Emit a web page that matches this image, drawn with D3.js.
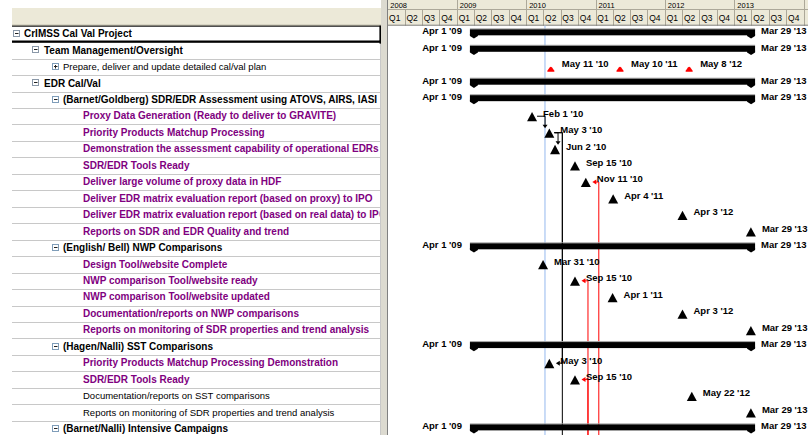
<!DOCTYPE html>
<html><head><meta charset="utf-8">
<script src="https://cdn.jsdelivr.net/npm/d3@7"></script>
<style>
html,body{margin:0;padding:0;background:#fff;overflow:hidden}
svg{display:block}
text{font-family:"Liberation Sans",Arial,sans-serif}
</style></head><body>
<svg id="c" width="808" height="435"></svg>
<script>
// ---------------- DATA ----------------
const taskNames = [
 "CrIMSS Cal Val Project",
 "Team Management/Oversight",
 "Prepare, deliver and update detailed cal/val plan",
 "EDR Cal/Val",
 "(Barnet/Goldberg) SDR/EDR Assessment using ATOVS, AIRS, IASI",
 "Proxy Data Generation (Ready to deliver to GRAVITE)",
 "Priority Products Matchup Processing",
 "Demonstration the assessment capability of operational EDRs",
 "SDR/EDR Tools Ready",
 "Deliver large volume of proxy data in HDF",
 "Deliver EDR matrix evaluation report (based on proxy) to IPO",
 "Deliver EDR matrix evaluation report (based on real data) to IPO",
 "Reports on SDR and EDR Quality and trend",
 "(English/ Bell) NWP Comparisons",
 "Design Tool/website Complete",
 "NWP comparison Tool/website ready",
 "NWP comparison Tool/website updated",
 "Documentation/reports on NWP comparisons",
 "Reports on monitoring of SDR properties and trend analysis",
 "(Hagen/Nalli) SST Comparisons",
 "Priority Products Matchup Processing Demonstration",
 "SDR/EDR Tools Ready",
 "Documentation/reports on SST comparisons",
 "Reports on monitoring of SDR properties and trend analysis",
 "(Barnet/Nalli) Intensive Campaigns"
];
const taskLevels = [0,1,2,1,2,3,3,3,3,3,3,3,3,2,3,3,3,3,3,2,3,3,3,3,2];
const taskTypes = ["summary","summary","rollup","summary","summary",
 "milestone","milestone","milestone","milestone","milestone","milestone","milestone","milestone",
 "summary","milestone","milestone","milestone","milestone","milestone",
 "summary","milestone","milestone","milestone","milestone","summary"];
const taskHighlighted = [0,0,0,0,0,1,1,1,1,1,1,1,1,0,1,1,1,1,1,0,1,1,0,0,0];
const taskExpanded = [1,1,0,1,1,null,null,null,null,null,null,null,null,1,null,null,null,null,null,1,null,null,null,null,1];
const taskStart = ["2009-04-01","2009-04-01",null,"2009-04-01","2009-04-01",
 "2010-02-01","2010-05-03","2010-06-02","2010-09-15","2010-11-11","2011-04-04","2012-04-03","2013-03-29",
 "2009-04-01","2010-03-31","2010-09-15","2011-04-01","2012-04-03","2013-03-29",
 "2009-04-01","2010-05-03","2010-09-15","2012-05-22","2013-03-29","2009-04-01"];
const taskFinish = ["2013-03-29","2013-03-29",null,"2013-03-29","2013-03-29",
 null,null,null,null,null,null,null,null,
 "2013-03-29",null,null,null,null,null,
 "2013-03-29",null,null,null,null,"2013-03-29"];
const rollupDates = ["2010-05-11","2011-05-10","2012-05-08"];
const yearLabels = ["2008","2009","2010","2011","2012","2013","2014"];
const quarterLabels = ["Q1","Q2","Q3","Q4"];
const statusDate = "2010-04-10";
// links: pred/succ are row indices, "below" = task outside the view
const links = [
 {pred:5, succ:6, critical:false},
 {pred:6, succ:7, critical:false},
 {pred:6, succ:20, critical:false},
 {pred:6, succ:"below", critical:false},
 {pred:"below", succ:9, critical:true},
 {pred:"below", succ:15, critical:true},
 {pred:"below", succ:21, critical:true}
];

// ---------------- DRAW ----------------
const W=808, H=435;
const svg=d3.select("#c");
const P=d3.utcParse("%Y-%m-%d");
const fmt=d3.utcFormat("%b %-d '%y");
const purple="#800080";
const headBg="#ece9d8", headLine="#aca899", gridLine="#c8c8c8";

const x=d3.scaleUtc().domain([P(yearLabels[0]+"-01-01"), P(yearLabels[yearLabels.length-1]+"-01-01")]).range([387.3, 803.7]);
const rowIdx=d3.range(taskNames.length);
const rowH=16.46, top0=25.7;
const y=d3.scaleBand().domain(rowIdx).range([top0, top0+rowH*taskNames.length]).padding(0);
const cy=i=>y(i)+y.bandwidth()/2;

const defs=svg.append("defs");
defs.append("clipPath").attr("id","tbl").append("rect").attr("x",12).attr("y",0).attr("width",367.5).attr("height",H);
defs.append("clipPath").attr("id","cht").append("rect").attr("x",388).attr("y",0).attr("width",W-388).attr("height",H);

// ---- left table ----
const tbl=svg.append("g");
tbl.append("rect").attr("x",12).attr("y",8).attr("width",371).attr("height",top0-8).attr("fill",headBg);
tbl.append("line").attr("x1",12).attr("x2",383).attr("y1",top0-0.5).attr("y2",top0-0.5).attr("stroke",headLine);
tbl.selectAll("line.row").data(rowIdx).join("line").attr("class","row")
  .attr("x1",12).attr("x2",380).attr("y1",d=>Math.round(y(d)+rowH)+0.5).attr("y2",d=>Math.round(y(d)+rowH)+0.5)
  .attr("stroke",gridLine);
tbl.append("line").attr("x1",380.5).attr("x2",380.5).attr("y1",top0).attr("y2",H).attr("stroke",gridLine);
// splitter
svg.append("rect").attr("x",381).attr("y",0).attr("width",6.3).attr("height",H).attr("fill","#dcdad0");
svg.append("line").attr("x1",387.5).attr("x2",387.5).attr("y1",0).attr("y2",H).attr("stroke","#808080");

const iconX=[13,32,52,72], textX=[24,44,63,83];
const rows=tbl.append("g").attr("clip-path","url(#tbl)");
rowIdx.forEach(i=>{
  const lv=taskLevels[i], c=cy(i);
  if(taskExpanded[i]!==null){
    const ix=iconX[lv], iy=Math.round(c-4)+0.5;
    rows.append("rect").attr("x",ix+0.5).attr("y",iy).attr("width",6).attr("height",6)
      .attr("fill","#fff").attr("stroke",lv>=2?"#7f9db9":"#8a98a8");
    rows.append("line").attr("x1",ix+2).attr("x2",ix+5.5).attr("y1",iy+3).attr("y2",iy+3).attr("stroke","#222");
    if(!taskExpanded[i]) rows.append("line").attr("x1",ix+3.5).attr("x2",ix+3.5).attr("y1",iy+1.5).attr("y2",iy+5).attr("stroke","#222");
  }
  const bold = taskTypes[i]==="summary" || taskHighlighted[i];
  rows.append("text").attr("x",textX[lv]).attr("y",c+3.2)
    .attr("font-size",bold?10:9.5).attr("font-weight",bold?"bold":"normal")
    .attr("fill",taskHighlighted[i]?purple:"#000").text(taskNames[i]);
});
// selected cell border (row 0)
tbl.append("line").attr("x1",12).attr("x2",381).attr("y1",top0+0.5).attr("y2",top0+0.5).attr("stroke","#000");
tbl.append("line").attr("x1",12).attr("x2",382).attr("y1",y(0)+rowH-0.5).attr("y2",y(0)+rowH-0.5).attr("stroke","#000").attr("stroke-width",2.2);
tbl.append("line").attr("x1",380.5).attr("x2",380.5).attr("y1",top0).attr("y2",y(0)+rowH).attr("stroke","#000").attr("stroke-width",2.2);
tbl.append("rect").attr("x",379.5).attr("y",y(0)+rowH-1.5).attr("width",3).attr("height",3).attr("fill","#000");

// ---- chart header ----
const hd=svg.append("g").attr("clip-path","url(#cht)");
hd.append("rect").attr("x",388).attr("y",0).attr("width",W-388).attr("height",top0).attr("fill",headBg);
const yearStarts=yearLabels.map(v=>P(v+"-01-01"));
const yr0=x.domain()[0];
const quarters=d3.utcMonth.every(3).range(yr0, d3.utcYear.offset(x.domain()[1],1));
hd.selectAll("line.yr").data(yearStarts).join("line").attr("class","yr")
  .attr("x1",d=>Math.round(x(d))+0.5).attr("x2",d=>Math.round(x(d))+0.5).attr("y1",0).attr("y2",top0)
  .attr("stroke",headLine);
hd.selectAll("text.yr").data(yearStarts.slice(0,-1)).join("text").attr("class","yr")
  .attr("x",d=>x(d)+3).attr("y",7.6).attr("font-size",7.5).attr("fill","#000").text((d,i)=>yearLabels[i]);
hd.append("line").attr("x1",388).attr("x2",W).attr("y1",9.5).attr("y2",9.5).attr("stroke",headLine);
hd.selectAll("line.q").data(quarters).join("line").attr("class","q")
  .attr("x1",d=>Math.round(x(d))+0.5).attr("x2",d=>Math.round(x(d))+0.5).attr("y1",9.5).attr("y2",top0)
  .attr("stroke",headLine);
hd.selectAll("text.q").data(quarters.filter(d=>x(d)<W-12)).join("text").attr("class","q")
  .attr("x",d=>x(d)+1.8).attr("y",20.5).attr("font-size",8.5).attr("fill","#000")
  .text(d=>quarterLabels[Math.floor(d.getUTCMonth()/3)]);
hd.append("line").attr("x1",388).attr("x2",W).attr("y1",top0-0.5).attr("y2",top0-0.5).attr("stroke","#808080");

// ---- chart body ----
const ch=svg.append("g").attr("clip-path","url(#cht)");
// status date line
ch.append("line").attr("x1",x(P(statusDate))).attr("x2",x(P(statusDate))).attr("y1",top0).attr("y2",H)
  .attr("stroke","#b8d0f4").attr("stroke-width",1.5);

const lblSize=9.5;
// links
const lk=ch.append("g");
const leftArrow=(tipX,ys,col)=>lk.append("path").attr("d",`M${tipX},${ys} L${tipX+4},${ys-2.5} L${tipX+4},${ys+2.5} Z`).attr("fill",col);
links.forEach(l=>{
  const col=l.critical?"#ff0000":"#000";
  if(l.pred!=="below" && l.succ!=="below"){
    const xp=x(P(taskStart[l.pred])), xs=x(P(taskStart[l.succ]));
    const yp=cy(l.pred), ys=cy(l.succ);
    if(l.succ===l.pred+1){
      const vx=Math.min(xp+13, xs+3), tipY=ys-4.5;
      lk.append("path").attr("d",`M${xp+5},${yp} H${vx} V${tipY-3}`).attr("fill","none").attr("stroke",col);
      lk.append("path").attr("d",`M${vx-2.5},${tipY-3.5} L${vx+2.5},${tipY-3.5} L${vx},${tipY} Z`).attr("fill",col);
    } else {
      const vx=xp+13, tipX=xs+6.5;
      lk.append("path").attr("d",`M${xp+5},${yp} H${vx} V${ys} H${tipX+3}`).attr("fill","none").attr("stroke",col);
      leftArrow(tipX,ys,col);
    }
  } else if(l.succ==="below"){
    const xp=x(P(taskStart[l.pred])), vx=xp+13;
    lk.append("path").attr("d",`M${xp+5},${cy(l.pred)} H${vx} V${H}`).attr("fill","none").attr("stroke",col);
  } else {
    const xs=x(P(taskStart[l.succ])), vx=xs+13, tipX=xs+6.5, ys=cy(l.succ);
    lk.append("path").attr("d",`M${vx},${H} V${ys} H${tipX+3}`).attr("fill","none").attr("stroke",col);
    leftArrow(tipX,ys,col);
  }
});

rowIdx.forEach(i=>{
  const c=cy(i), t=taskTypes[i];
  if(t==="summary"){
    const x0=x(P(taskStart[i])), x1=x(d3.utcDay.offset(P(taskFinish[i]),1));
    ch.append("rect").attr("x",x0-4).attr("y",c-5.6).attr("width",x1-x0+8).attr("height",1).attr("fill","#a0a0a0");
    ch.append("rect").attr("x",x0-4).attr("y",c-4.6).attr("width",x1-x0+8).attr("height",6).attr("fill","#000");
    [x0,x1].forEach(xx=>ch.append("path").attr("d",`M${xx-4},${c} L${xx+4},${c} L${xx+4},${c+2} L${xx},${c+4.6} L${xx-4},${c+2} Z`).attr("fill","#000"));
    ch.append("text").attr("x",x0-12).attr("y",c+0.4).attr("text-anchor","end").attr("font-size",lblSize).attr("font-weight","bold").text(fmt(P(taskStart[i])));
    ch.append("text").attr("x",x1+10).attr("y",c+0.4).attr("font-size",lblSize).attr("font-weight","bold").text(fmt(P(taskFinish[i])));
  } else if(t==="milestone"){
    const xm=x(P(taskStart[i]));
    ch.append("path").attr("d",`M${xm},${c-4.3} L${xm+5},${c+5} L${xm-5},${c+5} Z`).attr("fill","#000");
    ch.append("text").attr("x",xm+11).attr("y",c+0.4).attr("font-size",lblSize).attr("font-weight","bold").text(fmt(P(taskStart[i])));
  } else if(t==="rollup"){
    rollupDates.forEach(d=>{
      const xm=x(P(d));
      ch.append("path").attr("d",`M${xm-3.5},${c+5} L${xm+3.5},${c+5} L${xm+3.5},${c+4} L${xm+1.2},${c+0.6} Q${xm},${c-0.6} ${xm-1.2},${c+0.6} L${xm-3.5},${c+4} Z`).attr("fill","#ff0000");
      ch.append("text").attr("x",xm+11).attr("y",c+0.4).attr("font-size",lblSize).attr("font-weight","bold").text(fmt(P(d)));
    });
  }
});
</script></body></html>
